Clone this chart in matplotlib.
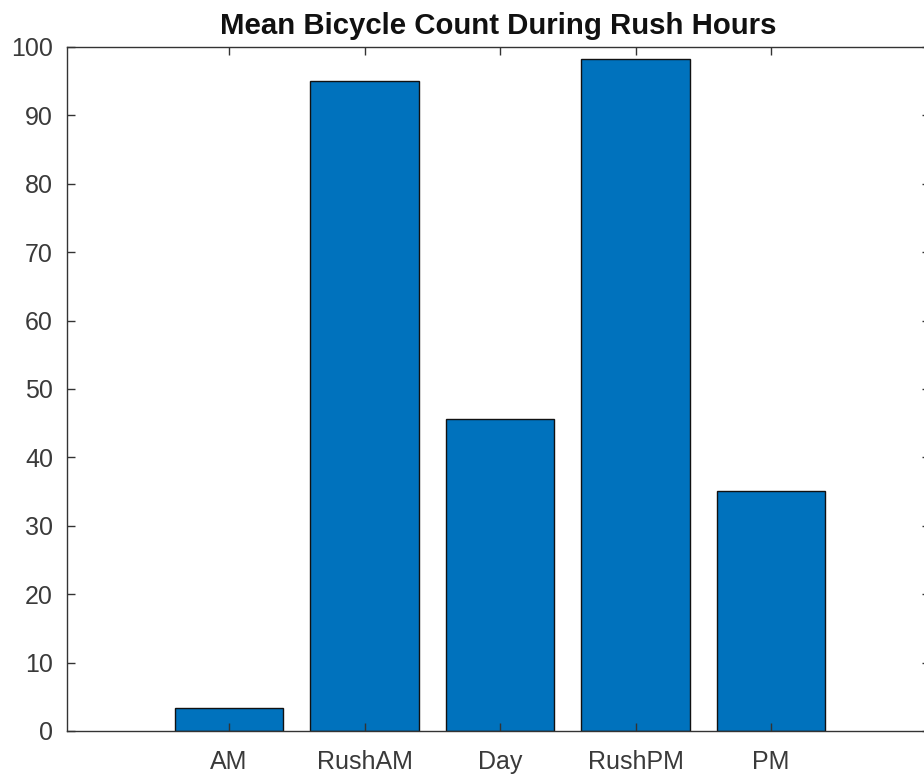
import matplotlib
matplotlib.use("Agg")
import matplotlib.pyplot as plt

categories = ["AM", "RushAM", "Day", "RushPM", "PM"]
mean_counts = [3.4, 95.1, 45.6, 98.3, 35.1]
y_ticks = [0, 10, 20, 30, 40, 50, 60, 70, 80, 90, 100]

plt.rcParams["font.family"] = ["Liberation Sans", "DejaVu Sans"]

W, H = 924, 776
fig = plt.figure(figsize=(W / 100, H / 100), dpi=100)
left, right, bottom, top = 67, 930, 731, 47
ax = fig.add_axes([left / W, (H - bottom) / H, (right - left) / W, (bottom - top) / H])

x = list(range(1, len(categories) + 1))
ax.bar(x, mean_counts, width=0.8, color="#0072BD", edgecolor="#111111", linewidth=1.0)

ax.set_xlim(1 - 162 / 135.5, 1 + (right - 229) / 135.5)
ax.set_ylim(0, 100)
ax.set_xticks(x)
ax.set_xticklabels(categories)
ax.set_yticks(y_ticks)

axis_color = "#333333"
for side in ax.spines.values():
    side.set_color(axis_color)
    side.set_linewidth(1.0)

ax.tick_params(axis="both", which="major", direction="in", length=5.5, width=1.0,
               color=axis_color, labelcolor="#3a3a3a", labelsize=18,
               top=True, right=True)
ax.tick_params(axis="x", pad=14)
ax.tick_params(axis="y", pad=10)

ax.set_title("Mean Bicycle Count During Rush Hours", fontsize=21.2,
             fontweight="bold", color="#111111", pad=9)

fig.savefig("out.png", dpi=100)
